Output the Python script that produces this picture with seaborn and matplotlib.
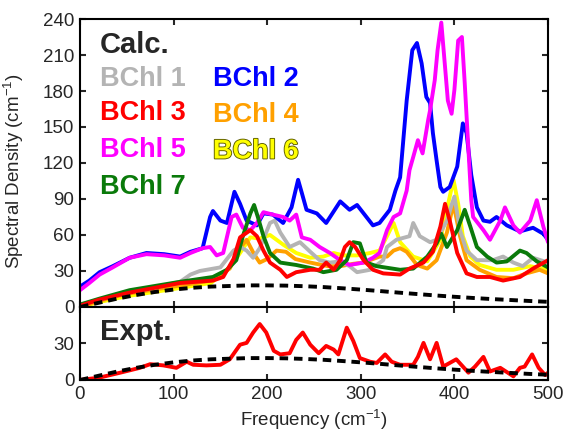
import numpy as np
import seaborn as sns
import matplotlib.pyplot as plt
import matplotlib.patheffects as pe

# values (frequency in cm-1, spectral density in cm-1)

f_bchl1 = [0, 20, 50, 80, 107, 118, 128, 150, 164, 171, 178, 185, 192, 203, 208, 214, 224, 235, 246, 256,
           267, 278, 288, 296, 310, 324, 328, 338, 352, 356, 363, 374, 381, 392, 397, 400, 406, 413, 424,
           441, 452, 463, 473, 484, 500]
j_bchl1 = [2, 6, 12, 16, 21, 27, 30, 33, 47, 50, 47, 41, 49, 70, 72, 62, 50, 54, 46, 39,
           37, 38, 34, 29, 31, 39, 50, 56, 59, 70, 59, 54, 56, 72, 85, 92, 64, 47, 39,
           39, 42, 37, 34, 41, 37]

f_bchl2 = [0, 10, 21, 35, 53, 71, 90, 107, 118, 131, 139, 142, 150, 157, 165, 171, 178, 189, 196, 206,
           217, 226, 233, 237, 242, 253, 263, 278, 288, 296, 303, 313, 320, 331, 337, 342, 349, 355, 360,
           365, 370, 374, 377, 381, 385, 388, 395, 403, 409, 413, 418, 424, 431, 438, 445, 456, 470, 484,
           495, 500]
j_bchl2 = [17, 22, 29, 34, 41, 45, 44, 42, 46, 49, 75, 80, 72, 70, 96, 86, 72, 68, 78, 77,
           70, 83, 106, 95, 81, 78, 70, 88, 81, 85, 78, 68, 70, 81, 97, 108, 172, 214, 220,
           203, 175, 170, 145, 122, 100, 96, 100, 117, 153, 145, 110, 83, 72, 71, 75, 68, 63, 66,
           61, 56]

f_bchl3 = [0, 20, 53, 80, 107, 142, 153, 164, 171, 182, 189, 196, 203, 214, 221, 231, 246, 256, 263, 271,
           278, 283, 288, 294, 303, 313, 324, 342, 352, 367, 377, 385, 390, 395, 403, 413, 424, 438, 452,
           470, 484, 500]
j_bchl3 = [1, 6, 12, 16, 20, 22, 25, 40, 58, 64, 59, 47, 37, 31, 25, 29, 31, 31, 37, 31,
           39, 50, 54, 50, 39, 31, 28, 27, 32, 37, 46, 67, 86, 72, 45, 28, 25, 25, 22,
           25, 32, 39]

f_bchl4 = [0, 20, 50, 100, 140, 160, 170, 178, 186, 192, 200, 210, 220, 230, 246, 265, 278, 292, 303, 320,
           328, 335, 342, 349, 360, 371, 381, 392, 399, 406, 413, 427, 445, 463, 477, 491, 500]
j_bchl4 = [0, 5, 11, 17, 22, 32, 48, 56, 44, 37, 40, 47, 46, 40, 37, 34, 34, 36, 37, 42,
           42, 47, 49, 46, 35, 32, 39, 62, 86, 59, 39, 31, 25, 24, 28, 31, 28]

f_bchl5 = [0, 10, 21, 35, 53, 71, 90, 107, 118, 131, 139, 146, 153, 162, 167, 174, 182, 189, 196, 206,
           217, 224, 231, 237, 246, 256, 267, 278, 288, 303, 313, 320, 328, 335, 342, 349, 352, 356, 361,
           366, 372, 374, 379, 382, 386, 390, 393, 397, 400, 404, 408, 411, 415, 418, 420, 431, 438, 449,
           454, 463, 470, 481, 488, 495, 500]
j_bchl5 = [14, 20, 27, 33, 41, 44, 43, 41, 45, 49, 50, 43, 45, 75, 77, 66, 64, 70, 79, 77,
           75, 72, 77, 58, 56, 50, 45, 39, 35, 37, 41, 45, 64, 75, 78, 97, 114, 125, 139,
           128, 156, 164, 189, 214, 237, 200, 172, 161, 181, 222, 225, 187, 131, 89, 75, 64, 56, 72,
           83, 68, 62, 72, 89, 67, 54]

f_bchl6 = [0, 20, 50, 100, 140, 160, 171, 182, 192, 203, 217, 231, 246, 260, 271, 281, 296, 310, 320, 328,
           335, 342, 356, 371, 385, 395, 399, 404, 409, 417, 427, 445, 463, 481, 500]
j_bchl6 = [0, 4, 9, 15, 20, 33, 45, 58, 57, 60, 52, 45, 41, 42, 45, 43, 43, 45, 47, 59,
           70, 54, 42, 38, 56, 92, 106, 86, 59, 42, 35, 31, 31, 34, 31]

f_bchl7 = [0, 21, 53, 107, 142, 157, 167, 174, 182, 186, 190, 196, 203, 214, 231, 249, 260, 274, 285, 292,
           299, 306, 317, 342, 356, 371, 381, 386, 392, 403, 411, 417, 424, 435, 445, 456, 470, 477, 488,
           500]
j_bchl7 = [2, 7, 14, 21, 25, 31, 39, 59, 78, 85, 75, 59, 45, 37, 35, 32, 29, 31, 39, 54,
           53, 37, 34, 31, 32, 42, 53, 61, 50, 64, 81, 67, 50, 42, 37, 38, 47, 45, 38,
           33]

# black dashed curve (same in both panels)
f_fit = [0, 20, 40, 60, 80, 100, 120, 140, 160, 180, 200, 220, 240, 260, 280, 300, 320, 340, 360, 380,
         400, 420, 440, 460, 480, 500]
j_fit = [0, 3.5, 7, 10, 12.5, 14.5, 16, 17, 17.5, 18, 18, 17.8, 17.3, 16.6, 15.6, 14.5, 13.3, 12, 10.8, 9.6,
         8.5, 7.5, 6.6, 5.8, 5, 4.3]

f_expt = [0, 21, 43, 64, 75, 89, 103, 114, 121, 135, 150, 160, 171, 178, 185, 192, 199, 207, 214, 224,
          231, 238, 246, 255, 263, 271, 276, 285, 292, 299, 310, 317, 326, 333, 342, 356, 361, 367, 374,
          381, 388, 402, 415, 422, 431, 438, 449, 463, 470, 475, 483, 490, 497, 500]
j_expt = [0, 2, 6, 10, 13, 12, 10, 15, 12.5, 12, 12.5, 17, 29, 30.5, 39, 46, 39, 24, 21, 22,
          33, 39, 29, 22, 28, 25, 21, 43, 32, 18, 15, 14, 21, 15, 12.5, 12.5, 19, 30.5, 17,
          30.5, 11, 17, 6, 11, 19, 7, 10, 3, 10, 11, 21, 10, 4, 6]

labels = ['BChl 1', 'BChl 2', 'BChl 3', 'BChl 4', 'BChl 5', 'BChl 6', 'BChl 7']
colors = ['#b4b4b4', '#0000ff', '#ff0000', '#ffa000', '#ff00ff', '#ffff00', '#0a7a0a']

sns.set_style('ticks')
plt.rcParams['font.family'] = ['Liberation Sans', 'DejaVu Sans']
plt.rcParams['mathtext.default'] = 'regular'

fig = plt.figure(figsize=(5.73, 4.32), dpi=100)
ax1 = fig.add_axes([0.1396, 0.2894, 0.8168, 0.6666])
ax2 = fig.add_axes([0.1396, 0.1204, 0.8168, 0.169])

series = {
    'BChl 1': (f_bchl1, j_bchl1), 'BChl 2': (f_bchl2, j_bchl2), 'BChl 3': (f_bchl3, j_bchl3),
    'BChl 4': (f_bchl4, j_bchl4), 'BChl 5': (f_bchl5, j_bchl5), 'BChl 6': (f_bchl6, j_bchl6),
    'BChl 7': (f_bchl7, j_bchl7),
}
cmap = dict(zip(labels, colors))

# drawing order (bottom -> top)
for name in ['BChl 6', 'BChl 4', 'BChl 1', 'BChl 2', 'BChl 5', 'BChl 7', 'BChl 3']:
    fx, jy = series[name]
    sns.lineplot(x=fx, y=jy, ax=ax1, color=cmap[name], lw=2.8)

sns.lineplot(x=f_fit, y=j_fit, ax=ax1, color='black', lw=2.8, ls=(0, (2.2, 1.5)))
sns.lineplot(x=f_expt, y=j_expt, ax=ax2, color='#ff0000', lw=2.8)
sns.lineplot(x=f_fit, y=j_fit, ax=ax2, color='black', lw=2.8, ls=(0, (2.2, 1.5)))

for ax in (ax1, ax2):
    ax.set_xlim(0, 500)
    ax.set_xticks([0, 100, 200, 300, 400, 500])
    ax.tick_params(direction='in', top=True, right=True, length=4, width=1.5, labelsize=13.5, pad=4)
    for s in ax.spines.values():
        s.set_linewidth(1.5)
        s.set_color('black')

ax1.set_ylim(0, 240)
ax1.set_yticks(range(0, 241, 30))
ax1.tick_params(labelbottom=False)
ax2.set_ylim(0, 60)
ax2.set_yticks([0, 30])

ax1.set_ylabel('Spectral Density (cm$^{-1}$)', fontsize=13.5)
ax1.yaxis.set_label_coords(-0.115, 0.47)
ax2.set_xlabel('Frequency (cm$^{-1}$)', fontsize=13.5, labelpad=3.5)

# in-plot labels
ax1.text(0.043, 0.91, 'Calc.', transform=ax1.transAxes, fontsize=21, fontweight='bold', va='center')
ax2.text(0.043, 0.66, 'Expt.', transform=ax2.transAxes, fontsize=21, fontweight='bold', va='center')
lab_pos = {'BChl 1': (0.043, 0.792), 'BChl 3': (0.043, 0.674), 'BChl 5': (0.043, 0.545),
           'BChl 7': (0.043, 0.417), 'BChl 2': (0.284, 0.792), 'BChl 4': (0.284, 0.667),
           'BChl 6': (0.284, 0.54)}
for name, (tx, ty) in lab_pos.items():
    t = ax1.text(tx, ty, name, transform=ax1.transAxes, fontsize=19.5, fontweight='bold',
                 va='center', color=cmap[name])
    if name == 'BChl 6':
        t.set_path_effects([pe.Stroke(linewidth=1.3, foreground='#5a5a00'), pe.Normal()])

fig.savefig('out.png', dpi=100)
